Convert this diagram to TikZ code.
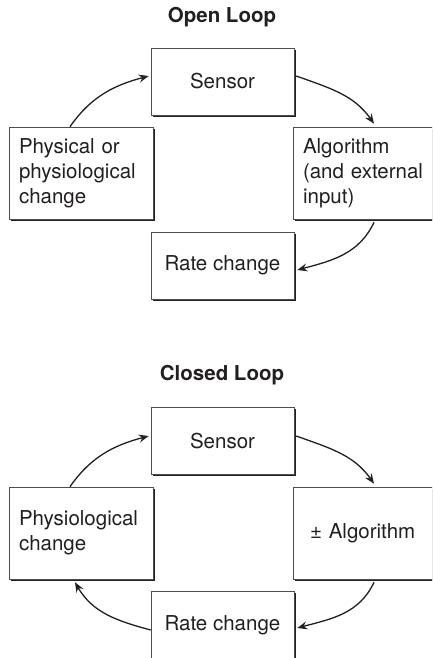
\documentclass[tikz,border=0pt]{standalone}
\usepackage{fontspec}
\setmainfont{TeX Gyre Heros}
\usetikzlibrary{arrows.meta,shadows}
\definecolor{ink}{HTML}{231F20}

\begin{document}
\begin{tikzpicture}[x=1pt, y=1pt,
  box/.style={rectangle, draw=ink!80, line width=0.6pt, fill=white, minimum width=143pt, minimum height=67pt, inner sep=0pt, align=center,
    font=\fontsize{20.5}{25}\selectfont, text=ink,
    drop shadow={shadow xshift=2pt, shadow yshift=-2pt, fill=ink, opacity=1}},
  sidebox/.style={box, minimum width=144pt, minimum height=92pt, text width=124pt, align=left},
  title/.style={font=\fontsize{20.5}{25}\selectfont\bfseries, text=ink},
  arr/.style={-{Stealth[length=10pt, width=8pt, inset=3.5pt]}, line width=1.3pt, ink}
]
  \useasboundingbox (0,0) rectangle (432,658);
  \clip (0,0) rectangle (432,658);

  % open loop
  \node[title] (opentitle) at (222,641) {Open Loop};
  \node[box] (sensor1) at (222.5,576.5) {Sensor};
  \node[sidebox] (change1) at (81,485) {Physical or\\physiological\\change};
  \node[sidebox] (algo1) at (365,485) {Algorithm\\(and external\\input)};
  \node[box] (rate1) at (222.5,392.5) {Rate change};

  \draw[arr] ([xshift=-11pt]change1.north) to[out=55, in=195] ([xshift=-2pt, yshift=5.5pt]sensor1.west);
  \draw[arr] ([xshift=2pt, yshift=5.5pt]sensor1.east) to[out=-20, in=125] ([xshift=9pt, yshift=3pt]algo1.north);
  \draw[arr] ([xshift=9pt, yshift=-3pt]algo1.south) to[out=-115, in=15] ([xshift=3pt, yshift=-4.5pt]rate1.east);

  % closed loop
  \node[title] (closedtitle) at (222,283) {Closed Loop};
  \node[box] (sensor2) at (222.5,217) {Sensor};
  \node[sidebox] (change2) at (81,125) {Physiological\\change};
  \node[sidebox] (algo2) at (365,125) {\hspace*{7pt}± Algorithm};
  \node[box] (rate2) at (222.5,33) {Rate change};

  \draw[arr] ([xshift=-11pt]change2.north) to[out=55, in=195] ([xshift=-2pt, yshift=5pt]sensor2.west);
  \draw[arr] ([xshift=2pt, yshift=5pt]sensor2.east) to[out=-20, in=125] ([xshift=9pt, yshift=3pt]algo2.north);
  \draw[arr] ([xshift=9pt, yshift=-3pt]algo2.south) to[out=-115, in=15] ([xshift=3pt, yshift=-3pt]rate2.east);
  \draw[arr] ([yshift=-5pt]rate2.west) to[out=165, in=-60] ([xshift=-6pt, yshift=-3pt]change2.south);
\end{tikzpicture}
\end{document}
